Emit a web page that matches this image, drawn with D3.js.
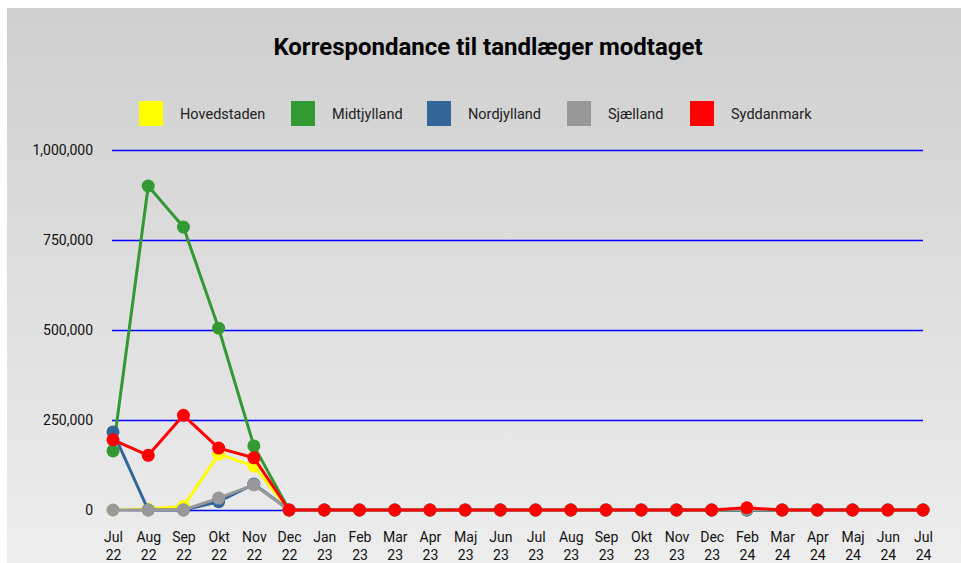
<!DOCTYPE html>
<html>
<head>
<meta charset="utf-8">
<script src="https://cdn.jsdelivr.net/npm/d3@7"></script>
<style>
  html, body { margin: 0; padding: 0; background: #fff; }
  svg { display: block; font-family: Roboto, "Noto Sans", sans-serif; }
</style>
</head>
<body>
<svg id="chart" width="961" height="563"></svg>
<script>
const months = ['Jul 22', 'Aug 22', 'Sep 22', 'Okt 22', 'Nov 22', 'Dec 22', 'Jan 23', 'Feb 23', 'Mar 23',
  'Apr 23', 'Maj 23', 'Jun 23', 'Jul 23', 'Aug 23', 'Sep 23', 'Okt 23', 'Nov 23', 'Dec 23', 'Feb 24',
  'Mar 24', 'Apr 24', 'Maj 24', 'Jun 24', 'Jul 24'];

const regions = ['Hovedstaden', 'Midtjylland', 'Nordjylland', 'Sjælland', 'Syddanmark'];
const colors = ['#ffff00', '#339933', '#336699', '#999999', '#ff0000'];

const hovedstaden = [0, 3000, 10000, 155000, 122000, 0, 0, 0, 0, 0, 0, 0, 0, 0, 0, 0, 0, 0, 1000, 0, 0, 0, 0, 0];
const midtjylland = [164000, 900000, 786000, 505000, 178000, 0, 0, 0, 0, 0, 0, 0, 0, 0, 0, 0, 0, 0, 0, 0, 0, 0, 0, 0];
const nordjylland = [217000, 0, 0, 23000, 72000, 0, 0, 0, 0, 0, 0, 0, 0, 0, 0, 0, 0, 0, 0, 0, 0, 0, 0, 0];
const sjaelland = [0, 0, 0, 33000, 70000, 0, 0, 0, 0, 0, 0, 0, 0, 0, 0, 0, 0, 0, 2000, 0, 0, 0, 0, 0];
const syddanmark = [195000, 152000, 263000, 172000, 145000, 0, 0, 0, 0, 0, 0, 0, 0, 0, 0, 0, 0, 0, 6000, 0, 0, 0, 0, 0];

const yTicks = [0, 250000, 500000, 750000, 1000000];

const series = [hovedstaden, midtjylland, nordjylland, sjaelland, syddanmark]
  .map((values, i) => ({ name: regions[i], color: colors[i], values }));

const svg = d3.select('#chart');

// background panel with soft vertical gradient
const grad = svg.append('defs').append('linearGradient')
  .attr('id', 'bg').attr('x1', 0).attr('y1', 0).attr('x2', 0).attr('y2', 1);
grad.append('stop').attr('offset', '0%').attr('stop-color', '#cfcfcf');
grad.append('stop').attr('offset', '100%').attr('stop-color', '#ededed');

svg.append('rect')
  .attr('x', 7).attr('y', 8)
  .attr('width', 954).attr('height', 555)
  .attr('fill', 'url(#bg)');

svg.append('text')
  .attr('x', 488).attr('y', 55)
  .attr('text-anchor', 'middle')
  .attr('font-size', 24).attr('font-weight', 'bold')
  .attr('fill', '#000')
  .text('Korrespondance til tandlæger modtaget');

// legend
const legendX = [139, 291, 427, 567, 690];
const legend = svg.append('g').selectAll('g')
  .data(series)
  .join('g')
  .attr('transform', (d, i) => `translate(${legendX[i]}, 101)`);

legend.append('rect')
  .attr('width', 24).attr('height', 25)
  .attr('fill', d => d.color);

legend.append('text')
  .attr('x', 41).attr('y', 18)
  .attr('font-size', 14.5).attr('fill', '#222')
  .text(d => d.name);

const x = d3.scalePoint()
  .domain(d3.range(months.length))
  .range([113, 923]);

const y = d3.scaleLinear()
  .domain([0, 1000000])
  .range([510, 150]);

// gridlines
svg.append('g')
  .selectAll('line')
  .data(yTicks)
  .join('line')
  .attr('x1', 112).attr('x2', 923)
  .attr('y1', d => Math.round(y(d)) + 0.5).attr('y2', d => Math.round(y(d)) + 0.5)
  .attr('stroke', '#0000ff').attr('stroke-width', 1.3);

const yAxis = svg.append('g')
  .attr('transform', 'translate(93,0)')
  .call(d3.axisLeft(y).tickValues(yTicks).tickFormat(d3.format(',')).tickSize(0).tickPadding(0));
yAxis.select('.domain').remove();
yAxis.selectAll('text')
  .attr('font-size', 14).attr('font-family', 'Roboto, sans-serif').attr('fill', '#111');

const xAxis = svg.append('g')
  .attr('transform', 'translate(0,527)')
  .call(d3.axisBottom(x).tickSize(0).tickPadding(0).tickFormat(() => ''));
xAxis.select('.domain').remove();
xAxis.selectAll('.tick text').each(function(i) {
  const t = d3.select(this)
    .attr('font-size', 14).attr('font-family', 'Roboto, sans-serif').attr('fill', '#111')
    .attr('dy', null).attr('y', 0);
  const parts = months[i].split(' ');
  t.append('tspan').attr('x', 0).attr('y', 15).text(parts[0]);
  t.append('tspan').attr('x', 0).attr('y', 33).text(parts[1]);
});

const line = d3.line()
  .x((d, i) => x(i))
  .y(d => y(d));

const groups = svg.append('g').selectAll('g')
  .data(series)
  .join('g');

groups.append('path')
  .attr('d', d => line(d.values))
  .attr('fill', 'none')
  .attr('stroke', d => d.color)
  .attr('stroke-width', 3)
  .attr('stroke-linejoin', 'round');

groups.selectAll('circle')
  .data(d => d.values.map(v => ({ v, color: d.color })))
  .join('circle')
  .attr('cx', (d, i) => x(i))
  .attr('cy', d => y(d.v))
  .attr('r', 6.5)
  .attr('fill', d => d.color);
</script>
</body>
</html>
